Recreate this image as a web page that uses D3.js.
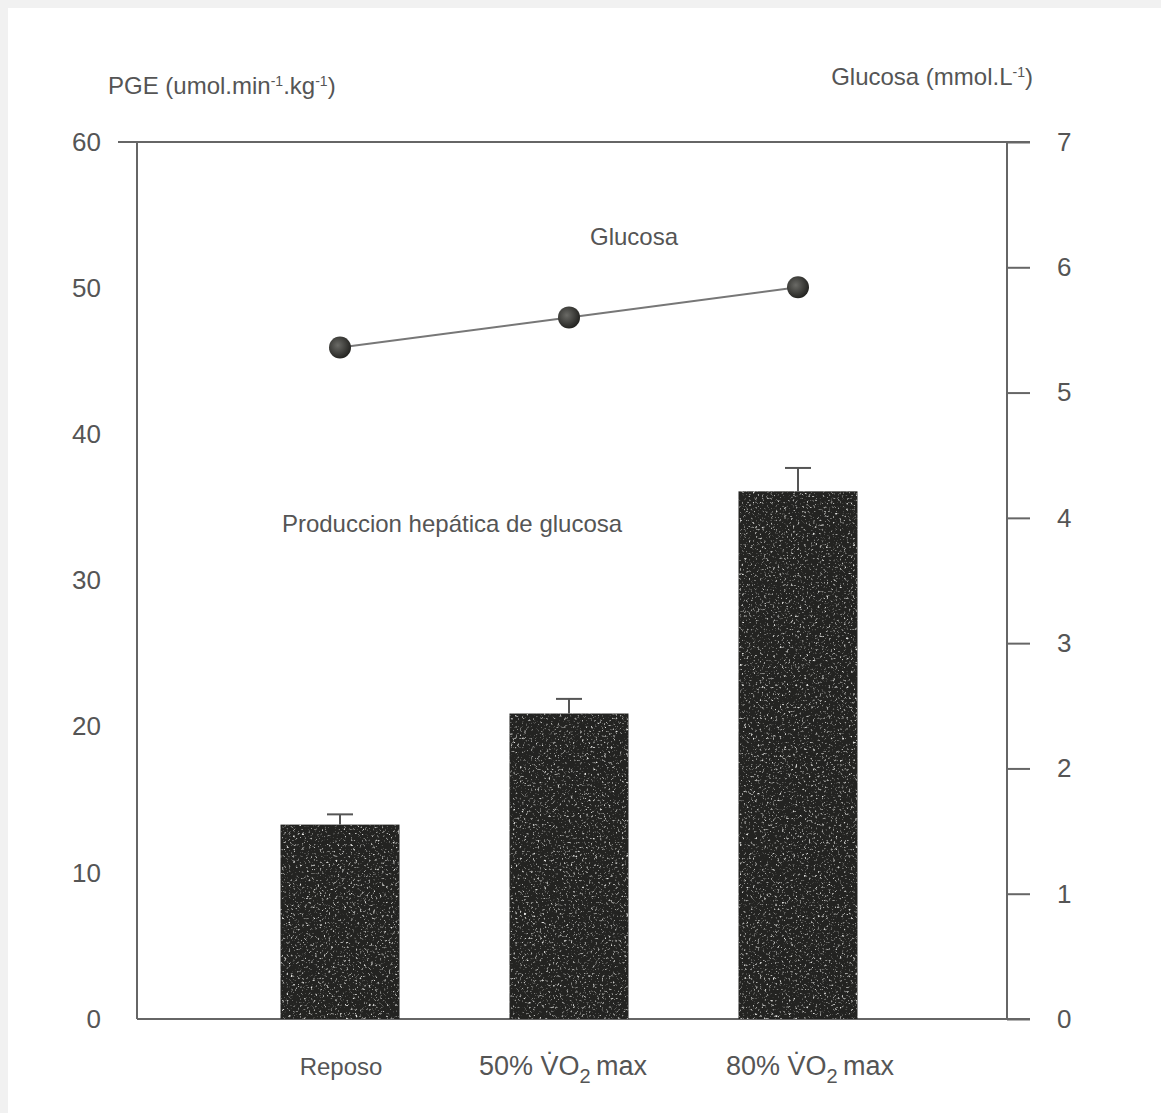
<!DOCTYPE html>
<html>
<head>
<meta charset="utf-8">
<script src="https://cdn.jsdelivr.net/npm/d3@7"></script>
<style>
  body { margin: 0; background: #f1f1f1; }
  text { font-family: "Liberation Sans", Arial, sans-serif; fill: #555; }
</style>
</head>
<body>
<div class="chartContainer"></div>
<script>
var width = 1161;
var height = 1113;

// data
var categories = ["Reposo", "50%", "80%"];
var pgeValues = [13.3, 20.9, 36.1];
var pgeErrors = [0.7, 1.0, 1.6];
var glucoseValues = [5.36, 5.6, 5.84];
var leftTicks = [0, 10, 20, 30, 40, 50, 60];
var rightTicks = [0, 1, 2, 3, 4, 5, 6, 7];

var svg = d3.select(".chartContainer")
  .append("svg")
    .attr("width", width)
    .attr("height", height)
    .style("display", "block");

svg.append("rect")
    .attr("x", 8).attr("y", 8)
    .attr("width", width - 8).attr("height", height - 8)
    .style("fill", "#fff");

var plotLeft = 137, plotRight = 1007, plotTop = 142, plotBottom = 1019;

var x = d3.scalePoint()
    .domain(categories)
    .range([340, 798]);

var yLeft = d3.scaleLinear()
    .domain([0, 60])
    .range([plotBottom, plotTop]);

var yRight = d3.scaleLinear()
    .domain([0, 7])
    .range([plotBottom, plotTop]);

var barWidth = 119;

// ======= speckle texture ========
var defs = svg.append("defs");
var filt = defs.append("filter").attr("id", "speckle")
    .attr("x", 0).attr("y", 0).attr("width", 1).attr("height", 1);
filt.append("feTurbulence")
    .attr("type", "fractalNoise")
    .attr("baseFrequency", 0.45)
    .attr("numOctaves", 2)
    .attr("seed", 7)
    .attr("result", "noise");
filt.append("feColorMatrix")
    .attr("in", "noise")
    .attr("type", "matrix")
    .attr("values", "0 0 0 0 0.8  0 0 0 0 0.8  0 0 0 0 0.78  4 0 0 0 -2.35")
    .attr("result", "spots");
filt.append("feComposite")
    .attr("in", "spots")
    .attr("in2", "SourceAlpha")
    .attr("operator", "in");

var grad = defs.append("radialGradient").attr("id", "ball")
    .attr("cx", "40%").attr("cy", "40%").attr("r", "60%");
grad.append("stop").attr("offset", "0%").attr("stop-color", "#6a6a66");
grad.append("stop").attr("offset", "100%").attr("stop-color", "#252522");

// ======= frame & axes ========
var frame = svg.append("g").attr("class", "frame")
    .style("stroke", "#666").style("stroke-width", 2).style("fill", "none");

frame.append("line").attr("x1", 118).attr("x2", 1030).attr("y1", plotTop).attr("y2", plotTop);
frame.append("line").attr("x1", plotLeft).attr("x2", 1030).attr("y1", plotBottom).attr("y2", plotBottom);
frame.append("line").attr("x1", plotLeft).attr("x2", plotLeft).attr("y1", plotTop).attr("y2", plotBottom);

var axisL = svg.append("g")
    .attr("transform", "translate(" + plotLeft + ",0)")
    .call(d3.axisLeft(yLeft).tickValues(leftTicks).tickSize(0).tickPadding(36));
axisL.select(".domain").remove();
axisL.selectAll("text")
    .style("font-size", "26px")
    .style("fill", "#555")
    .style("font-family", "'Liberation Sans', Arial, sans-serif");

var axisR = svg.append("g")
    .attr("transform", "translate(" + plotRight + ",0)")
    .call(d3.axisRight(yRight).tickValues(rightTicks).tickFormat(d3.format("d"))
        .tickSize(23).tickPadding(27));
axisR.select(".domain").attr("d", "M0," + plotTop + "V" + plotBottom)
    .style("stroke", "#666").style("stroke-width", 2);
axisR.selectAll("line").style("stroke", "#666").style("stroke-width", 2);
axisR.selectAll("text")
    .style("font-size", "26px")
    .style("fill", "#555")
    .style("font-family", "'Liberation Sans', Arial, sans-serif");

// ======= axis titles ========
var tL = svg.append("text").attr("x", 108).attr("y", 94).style("font-size", "24px");
tL.append("tspan").text("PGE (umol.min");
tL.append("tspan").attr("baseline-shift", "super").style("font-size", "14px").text("-1");
tL.append("tspan").text(".kg");
tL.append("tspan").attr("baseline-shift", "super").style("font-size", "14px").text("-1");
tL.append("tspan").text(")");

var tR = svg.append("text").attr("x", 1033).attr("y", 85).attr("text-anchor", "end").style("font-size", "24px");
tR.append("tspan").text("Glucosa (mmol.L");
tR.append("tspan").attr("baseline-shift", "super").style("font-size", "14px").text("-1");
tR.append("tspan").text(")");

// ======= bars ========
var bars = svg.append("g").attr("class", "bars");

bars.selectAll(".bar")
    .data(pgeValues)
  .enter().append("rect")
    .attr("class", "bar")
    .attr("x", function(d, i) { return x(categories[i]) - barWidth / 2; })
    .attr("y", function(d) { return yLeft(d); })
    .attr("width", barWidth)
    .attr("height", function(d) { return plotBottom - yLeft(d); })
    .style("fill", "#232321");

bars.selectAll(".speck")
    .data(pgeValues)
  .enter().append("rect")
    .attr("class", "speck")
    .attr("x", function(d, i) { return x(categories[i]) - barWidth / 2; })
    .attr("y", function(d) { return yLeft(d); })
    .attr("width", barWidth)
    .attr("height", function(d) { return plotBottom - yLeft(d); })
    .style("fill", "#000")
    .attr("filter", "url(#speckle)");

var err = svg.append("g").attr("class", "errors")
    .style("stroke", "#555").style("stroke-width", 2);

err.selectAll(".errV")
    .data(pgeValues)
  .enter().append("line")
    .attr("x1", function(d, i) { return x(categories[i]); })
    .attr("x2", function(d, i) { return x(categories[i]); })
    .attr("y1", function(d) { return yLeft(d); })
    .attr("y2", function(d, i) { return yLeft(d + pgeErrors[i]); });

err.selectAll(".errH")
    .data(pgeValues)
  .enter().append("line")
    .attr("x1", function(d, i) { return x(categories[i]) - 13; })
    .attr("x2", function(d, i) { return x(categories[i]) + 13; })
    .attr("y1", function(d, i) { return yLeft(d + pgeErrors[i]); })
    .attr("y2", function(d, i) { return yLeft(d + pgeErrors[i]); });

// ======= glucose line ========
var line = d3.line()
    .x(function(d, i) { return x(categories[i]); })
    .y(function(d) { return yRight(d); });

svg.append("path")
    .datum(glucoseValues)
    .attr("d", line)
    .style("fill", "none")
    .style("stroke", "#777")
    .style("stroke-width", 2);

svg.selectAll(".dot")
    .data(glucoseValues)
  .enter().append("circle")
    .attr("class", "dot")
    .attr("cx", function(d, i) { return x(categories[i]); })
    .attr("cy", function(d) { return yRight(d); })
    .attr("r", 11)
    .style("fill", "url(#ball)");

// ======= labels ========
svg.append("text").attr("x", 634).attr("y", 245).attr("text-anchor", "middle")
    .style("font-size", "24px").text("Glucosa");
svg.append("text").attr("x", 452).attr("y", 532).attr("text-anchor", "middle")
    .style("font-size", "24px").text("Produccion hepática de glucosa");

var xLabels = svg.append("g").attr("class", "xLabels");
xLabels.append("text").attr("x", 341).attr("y", 1075).attr("text-anchor", "middle")
    .style("font-size", "24px").text("Reposo");

function vo2Label(cx, pct) {
    var t = xLabels.append("text").attr("x", cx).attr("y", 1075).attr("text-anchor", "middle")
        .style("font-size", "27px");
    t.append("tspan").text(pct + " V\u0307O");
    t.append("tspan").attr("dy", 8).style("font-size", "20px").text("2");
    t.append("tspan").attr("dy", -8).text("\u2009max");
}
vo2Label(563, "50%");
vo2Label(810, "80%");
</script>
</body>
</html>
